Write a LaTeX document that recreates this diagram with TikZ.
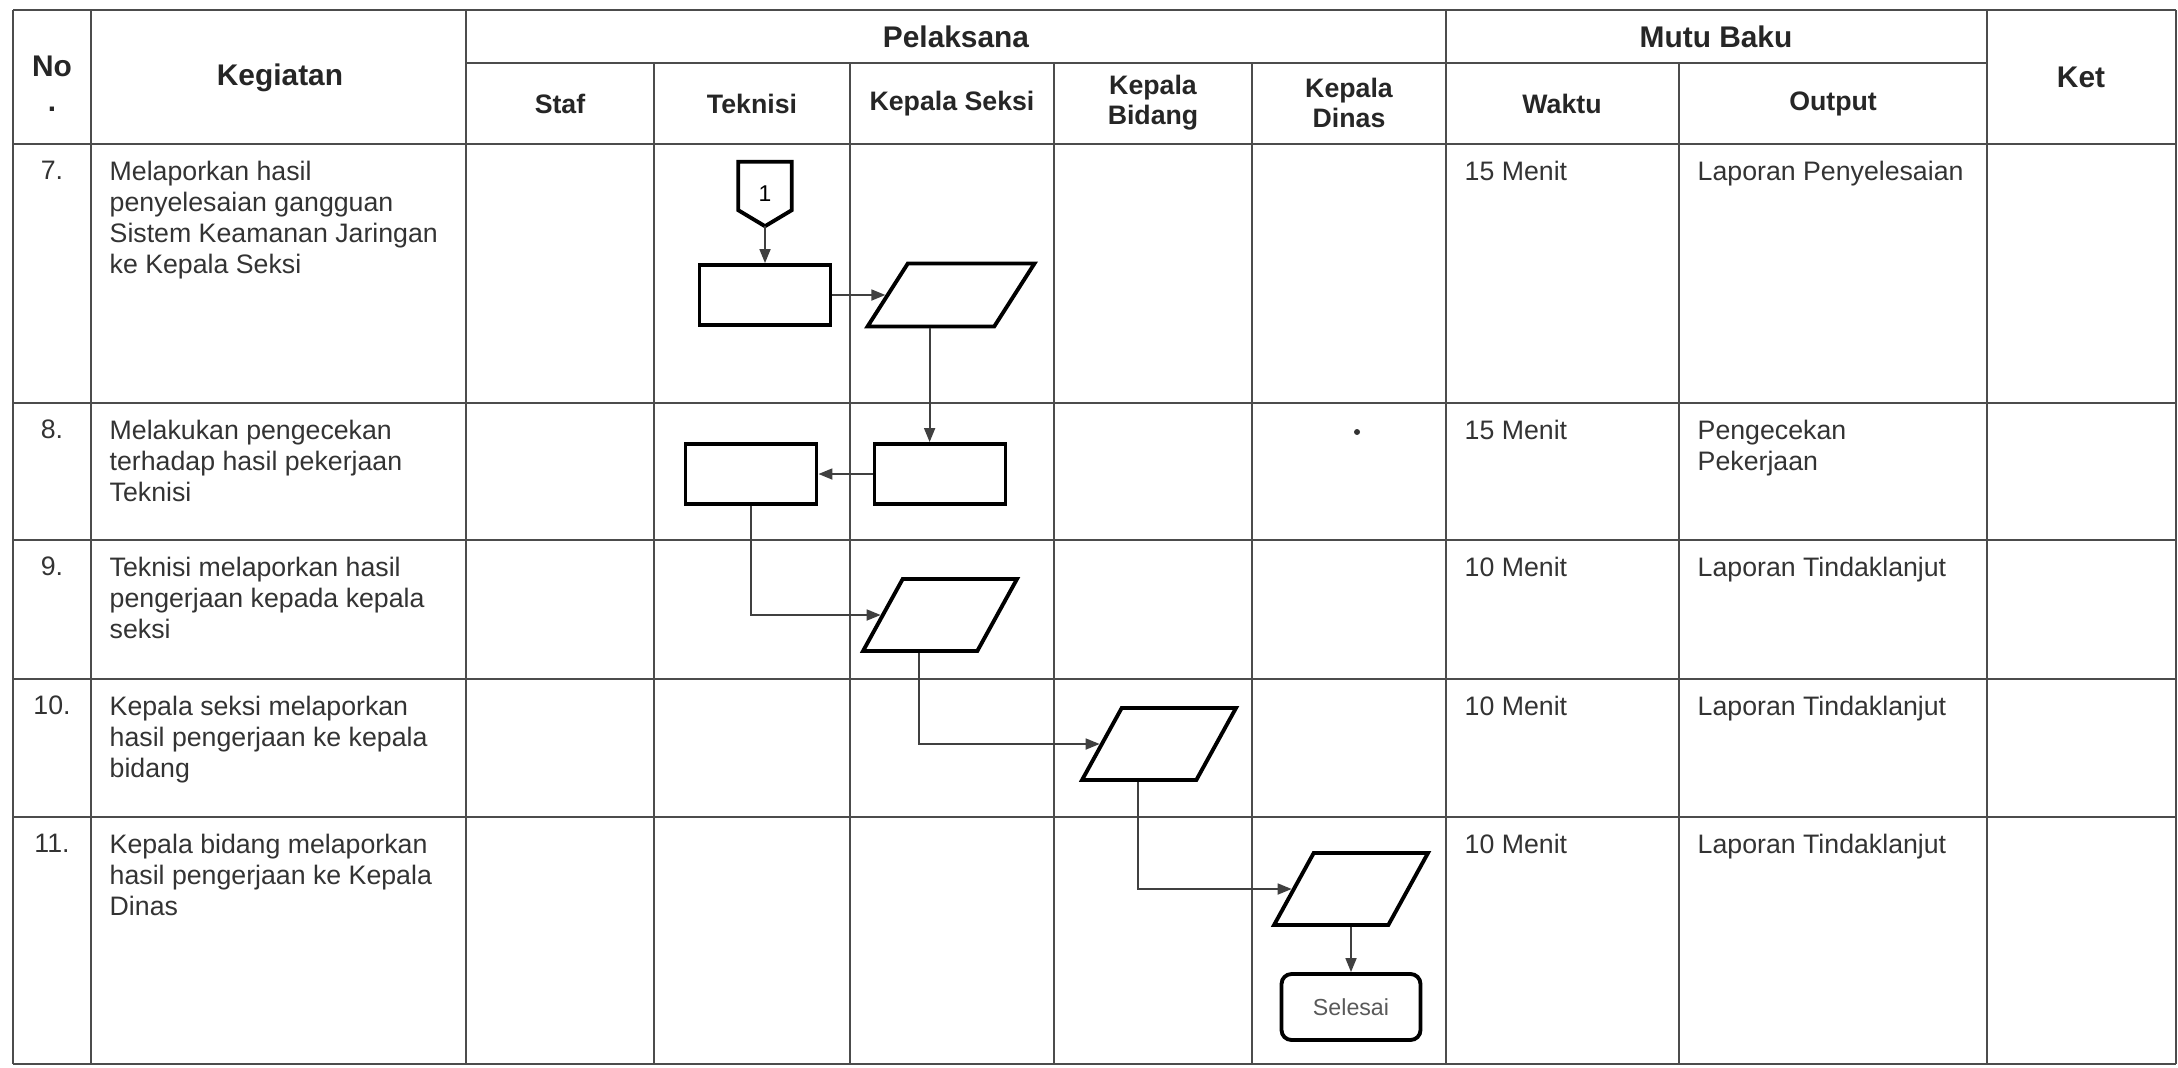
\documentclass[tikz,border=0pt]{standalone}
\usepackage{fontspec}
\setmainfont{Liberation Sans}
\usepackage{tikz}
\usetikzlibrary{positioning}
\usetikzlibrary{shapes.geometric}
\usetikzlibrary{arrows.meta}
\usetikzlibrary{calc}

\tikzset{
  grid/.style={draw=black!70, line width=0.5pt},
  head/.style={font=\fontsize{8.5}{10}\selectfont\bfseries, text=black!85, align=center, inner sep=0pt},
  subhead/.style={font=\fontsize{7.6}{8.6}\selectfont\bfseries, text=black!85, align=center, inner sep=0pt},
  body/.style={font=\fontsize{7.6}{8.9}\selectfont, text=black!80, align=left, anchor=north west, inner sep=0pt},
  num/.style={font=\fontsize{7.6}{8.9}\selectfont, text=black!80, anchor=north, inner sep=0pt},
  proc/.style={draw, line width=1.1pt, minimum width=13.1mm, minimum height=6mm, inner sep=0pt},
  data/.style={trapezium, trapezium left angle=62, trapezium right angle=118, trapezium stretches,
    draw, line width=1.1pt, minimum width=15.4mm, minimum height=7.2mm, inner sep=2pt},
  flow/.style={draw=black!75, line width=0.5pt, -{Triangle[length=1.4mm,width=1.1mm]}},
}

\begin{document}
\begin{tikzpicture}[x=0.1mm, y=-0.1mm, line join=miter]
    \useasboundingbox (0,0) rectangle (2178,1067);
    % table lines
    \foreach \y in {10,144,403,540,679,817,1064}
        \draw[grid] (13,\y) -- (2176,\y);
    \draw[grid] (466,63) -- (1987,63);
    \foreach \x in {13,91,466,1446,1987,2176}
        \draw[grid] (\x,10) -- (\x,1064);
    \foreach \x in {654,850,1054,1252,1679}
        \draw[grid] (\x,63) -- (\x,1064);

    % header
    \node[head] (hno) at (52,84) {No\\.};
    \node[head] (hkeg) at (280,78) {Kegiatan};
    \node[head] (hpel) at (956,37) {Pelaksana};
    \node[head] (hmutu) at (1716,37) {Mutu Baku};
    \node[head] (hket) at (2081,77) {Ket};
    \node[subhead] (hstaf) at (560,104) {Staf};
    \node[subhead] (htek) at (752,104) {Teknisi};
    \node[subhead] (hseksi) at (952,104) {Kepala Seksi};
    \node[subhead] (hbidang) at (1153,103) {Kepala\\Bidang};
    \node[subhead] (hdinas) at (1349,103) {Kepala\\Dinas};
    \node[subhead] (hwaktu) at (1562,104) {Waktu};
    \node[subhead] (hout) at (1833,104) {Output};

    % rows
    \node[num] (n7) at (52,160) {7.};
    \node[body] (k7) at (109,160) {Melaporkan hasil\\penyelesaian gangguan\\Sistem Keamanan Jaringan\\ke Kepala Seksi};
    \node[body] (w7) at (1464,160) {15 Menit};
    \node[body] (o7) at (1697,160) {Laporan Penyelesaian};

    \node[num] (n8) at (52,419) {8.};
    \node[body] (k8) at (109,419) {Melakukan pengecekan\\terhadap hasil pekerjaan\\Teknisi};
    \node[body] (w8) at (1464,419) {15 Menit};
    \node[body] (o8) at (1697,419) {Pengecekan\\Pekerjaan};

    \node[num] (n9) at (52,556) {9.};
    \node[body] (k9) at (109,556) {Teknisi melaporkan hasil\\pengerjaan kepada kepala\\seksi};
    \node[body] (w9) at (1464,556) {10 Menit};
    \node[body] (o9) at (1697,556) {Laporan Tindaklanjut};

    \node[num] (n10) at (52,695) {10.};
    \node[body] (k10) at (109,695) {Kepala seksi melaporkan\\hasil pengerjaan ke kepala\\bidang};
    \node[body] (w10) at (1464,695) {10 Menit};
    \node[body] (o10) at (1697,695) {Laporan Tindaklanjut};

    \node[num] (n11) at (52,833) {11.};
    \node[body] (k11) at (109,833) {Kepala bidang melaporkan\\hasil pengerjaan ke Kepala\\Dinas};
    \node[body] (w11) at (1464,833) {10 Menit};
    \node[body] (o11) at (1697,833) {Laporan Tindaklanjut};

    \fill[black!80] (1357,432) circle (0.3mm);

    % flow
    \node[minimum width=5.2mm, minimum height=6.3mm, inner sep=0pt,
        font=\fontsize{6.5}{7}\selectfont] (c1) at (765,194) {1};
    \draw[line width=1.1pt] (c1.north west) -- (c1.north east)
        -- ([yshift=1.6mm]c1.south east) -- (c1.south)
        -- ([yshift=1.6mm]c1.south west) -- cycle;
    \node[proc] (r1) at (765,295) {};
    \node[data, trapezium left angle=65, trapezium right angle=115,
        minimum width=16.7mm, minimum height=6.3mm] (p1) at (951,295) {};
    \node[proc] (r2) at (940,474) {};
    \node[proc] (r3) at (751,474) {};
    \node[data] (p2) at (940,615) {};
    \node[data] (p3) at (1159,744) {};
    \node[data] (p4) at (1351,889) {};
    \node[draw, line width=1.1pt, rounded corners=1mm, minimum width=13.9mm, minimum height=6.6mm,
        font=\fontsize{6.6}{7}\selectfont, text=black!65] (sel) at (1351,1007) {Selesai};

    \draw[flow] (c1.south) -- (r1.north);
    \draw[flow] (r1) -- (p1);
    \draw[flow] (p1.bottom side) -- (p1.bottom side |- r2.north);
    \draw[flow] (r2) -- (r3);
    \draw[flow] (r3.south) |- (p2);
    \draw[flow] (p2.bottom side) |- (p3);
    \draw[flow] (p3.bottom side) |- (p4);
    \draw[flow] (p4.south) -- (sel.north);
\end{tikzpicture}
\end{document}
